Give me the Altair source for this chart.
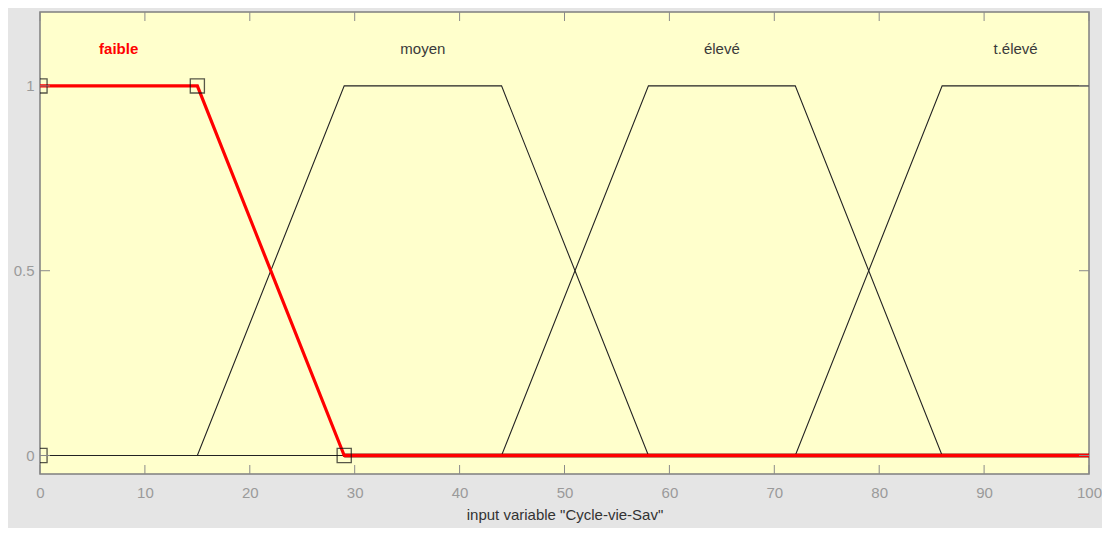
import altair as alt
import pandas as pd

# Membership-function breakpoints (x, membership)
faible_x = [0, 15, 29, 100]
faible_y = [1, 1, 0, 0]
moyen_x = [0, 15, 29, 44, 58, 100]
moyen_y = [0, 0, 1, 1, 0, 0]
eleve_x = [0, 44, 58, 72, 86, 100]
eleve_y = [0, 0, 1, 1, 0, 0]
televe_x = [0, 72, 86, 100]
televe_y = [0, 0, 1, 1]

# Square markers on the selected MF (faible)
square_x = [0, 0, 15, 29]
square_y = [0, 1, 1, 0]

# MF labels
label_names = ["faible", "moyen", "élevé", "t.élevé"]
label_x = [7.5, 36.5, 65, 93]
label_y = [1.1, 1.1, 1.1, 1.1]

x_ticks = [0, 10, 20, 30, 40, 50, 60, 70, 80, 90, 100]
y_ticks = [0, 0.5, 1]

W, H = 1049, 462
FONT = "Liberation Sans"

black_rows = []
for name, xs, ys in [("moyen", moyen_x, moyen_y), ("eleve", eleve_x, eleve_y), ("televe", televe_x, televe_y)]:
    for i, (a, b) in enumerate(zip(xs, ys)):
        black_rows.append({"mf": name, "x": a, "y": b, "o": i})
black_df = pd.DataFrame(black_rows)
red_df = pd.DataFrame({"x": faible_x, "y": faible_y, "o": list(range(len(faible_x)))})
sq_df = pd.DataFrame({"x": square_x, "y": square_y})
lab_df = pd.DataFrame({"name": label_names, "x": label_x, "y": label_y})
xt_df = pd.DataFrame({"x": x_ticks})
yt_df = pd.DataFrame({"y": y_ticks})

xscale = alt.Scale(domain=[0, 100], nice=False, zero=False)
yscale = alt.Scale(domain=[-0.05, 1.2], nice=False, zero=False)

xaxis = alt.Axis(values=x_ticks, ticks=False, domain=False, grid=False, labelFlush=False,
                 labelColor="#9a9a9a", labelFontSize=15, labelPadding=11, labelFont=FONT,
                 title='input variable "Cycle-vie-Sav"', titleColor="#333333",
                 titleFontSize=15, titleFontWeight="normal", titleFont=FONT, titlePadding=7)
yaxis = alt.Axis(values=y_ticks, ticks=False, domain=False, grid=False, labelFlush=False,
                 labelColor="#9a9a9a", labelFontSize=15, labelPadding=6, labelFont=FONT,
                 labelExpr="datum.value", title=None)

base_x = alt.X("x:Q", scale=xscale, axis=xaxis)
base_y = alt.Y("y:Q", scale=yscale, axis=yaxis)

black = alt.Chart(black_df).mark_line(color="#222222", strokeWidth=1.1).encode(
    x=base_x, y=base_y, detail="mf:N", order="o:Q")

red_edge = alt.Chart(red_df).transform_filter("datum.y == 0").mark_line(
    color="#8b0000", strokeWidth=4).encode(
    x=alt.X("x:Q", scale=xscale), y=alt.Y("y:Q", scale=yscale))

red = alt.Chart(red_df).mark_line(color="#ff0000", strokeWidth=3.2).encode(
    x=alt.X("x:Q", scale=xscale), y=alt.Y("y:Q", scale=yscale), order="o:Q")

squares = alt.Chart(sq_df).mark_point(shape="square", size=200, filled=False,
                                      color="#111111", strokeWidth=1.3, clip=True).encode(
    x=alt.X("x:Q", scale=xscale), y=alt.Y("y:Q", scale=yscale))

label_sel = alt.Chart(lab_df).transform_filter("datum.name == 'faible'").mark_text(
    font=FONT, fontSize=15, fontWeight="bold", color="#ff0000", baseline="middle", align="center").encode(
    x=alt.X("x:Q", scale=xscale), y=alt.Y("y:Q", scale=yscale), text="name:N")
label_other = alt.Chart(lab_df).transform_filter("datum.name != 'faible'").mark_text(
    font=FONT, fontSize=15, color="#3a3a3a", baseline="middle", align="center").encode(
    x=alt.X("x:Q", scale=xscale), y=alt.Y("y:Q", scale=yscale), text="name:N")

tick_color = "#8a8a8a"
xt_bot = alt.Chart(xt_df).mark_rule(color=tick_color, strokeWidth=1).encode(
    x=alt.X("x:Q", scale=xscale), y=alt.value(H), y2=alt.value(H - 9))
xt_top = alt.Chart(xt_df).mark_rule(color=tick_color, strokeWidth=1).encode(
    x=alt.X("x:Q", scale=xscale), y=alt.value(0), y2=alt.value(9))
yt_left = alt.Chart(yt_df).mark_rule(color=tick_color, strokeWidth=1).encode(
    y=alt.Y("y:Q", scale=yscale), x=alt.value(0), x2=alt.value(10))
yt_right = alt.Chart(yt_df).mark_rule(color=tick_color, strokeWidth=1).encode(
    y=alt.Y("y:Q", scale=yscale), x=alt.value(W), x2=alt.value(W - 10))

chart = alt.layer(black, red_edge, red, squares, label_sel, label_other,
                  xt_bot, xt_top, yt_left, yt_right).properties(
    width=W, height=H,
    background="#e5e5e5",
    padding={"left": 32, "top": 4, "right": 13, "bottom": 54},
    autosize=alt.AutoSizeParams(type="none"),
).configure_view(
    fill="#ffffcc", stroke="#7f7f7f", strokeWidth=1.5
)

chart.save("out.html", embed_options={"renderer": "svg", "actions": False})
